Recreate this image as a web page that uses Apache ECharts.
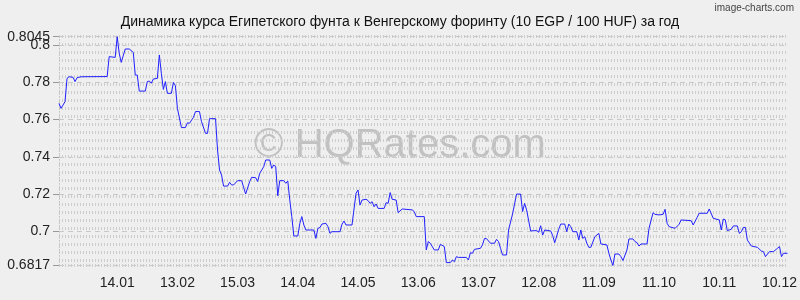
<!DOCTYPE html>
<html>
<head>
<meta charset="utf-8">
<script src="https://cdn.jsdelivr.net/npm/echarts@6/dist/echarts.min.js"></script>
<style>html,body{margin:0;padding:0;background:#efefef;}#c{width:800px;height:300px;}</style>
</head>
<body>
<div id="c"></div>
<script>
const titleText = 'Динамика курса Египетского фунта к Венгерскому форинту (10 EGP / 100 HUF) за год';
const watermarkText = '© HQRates.com';
const creditText = 'image-charts.com';

// day index counted from 16.12
const tickDays = [29, 59, 89, 119, 149, 179, 209, 239, 269, 299, 329, 359];
const tickLabels = ['14.01', '13.02', '15.03', '14.04', '14.05', '13.06', '13.07', '12.08', '11.09', '11.10', '10.11', '10.12'];
const yTicks = [0.6817, 0.7, 0.72, 0.74, 0.76, 0.78, 0.8];
const yMaxTick = [0.8045];
const yMin = 0.6817, yMax = 0.8045, dayMax = 363;

const days = [0,1,3,4,5,7,8,9,11,24,25,28,29,30,31,33,35,37,38,39,40,43,44,45,46,47,49,50,51,52,53,54,56,57,58,59,61,63,64,65,67,68,70,71,73,74,75,78,79,80,81,82,84,85,86,87,89,
91,93,95,96,98,99,100,102,103,105,106,107,108,109,110,112,113,114,115,116,117,119,120,121,122,123,127,128,129,130,131,133,134,135,136,140,141,142,143,146,148,149,150,151,153,154,155,156,157,158,159,162,163,164,165,166,168,169,171,176,177,178,182,
183,184,185,187,189,190,192,193,195,196,197,198,199,203,204,205,206,207,210,211,212,213,215,217,218,219,220,221,223,224,226,227,228,230,231,232,233,235,238,239,240,241,242,245,246,247,249,250,252,253,254,255,256,258,259,260,261,262,263,264,265,267,269,270,
273,274,275,276,277,279,280,281,283,284,286,287,288,289,290,293,294,296,297,299,301,302,303,304,307,309,310,315,316,318,319,323,324,326,329,330,331,332,333,335,336,338,339,340,341,342,343,345,348,350,351,352,354,356,358,359,360,361,363];

const rates = [0.7687,0.7660,0.7696,0.7821,0.7830,0.7827,0.7804,0.7825,0.7830,0.7831,0.7938,0.7934,0.8045,0.7956,0.7907,0.7979,0.7979,0.7961,0.7839,0.7839,0.7753,0.7753,0.7804,0.7807,0.7795,0.7818,0.7821,0.7947,0.7848,0.7762,0.7804,0.7741,0.7741,0.7800,0.7782,0.7660,0.7557,0.7557,0.7583,0.7580,0.7612,0.7643,0.7643,0.7589,0.7526,0.7526,0.7605,0.7605,0.7437,0.7329,0.7302,0.7243,0.7243,0.7263,0.7249,0.7249,0.7272,
0.7272,0.7200,0.7267,0.7290,0.7288,0.7267,0.7311,0.7347,0.7383,0.7383,0.7338,0.7356,0.7347,0.7191,0.7272,0.7272,0.7258,0.7270,0.7168,0.7079,0.6975,0.6975,0.7043,0.7079,0.7034,0.7007,0.7007,0.6962,0.7016,0.7020,0.7039,0.7043,0.7025,0.6989,0.6998,0.6998,0.7038,0.7055,0.7034,0.7034,0.7204,0.7222,0.7141,0.7168,0.7172,0.7165,0.7150,0.7159,0.7132,0.7147,0.7123,0.7123,0.7154,0.7150,0.7208,0.7172,0.7168,0.7100,0.7120,0.7115,0.7106,0.7079,0.7079,
0.6900,0.6945,0.6936,0.6900,0.6900,0.6930,0.6918,0.6832,0.6832,0.6846,0.6837,0.6864,0.6860,0.6860,0.6846,0.6885,0.6882,0.6903,0.6909,0.6927,0.6961,0.6961,0.6936,0.6936,0.6957,0.6945,0.6909,0.6873,0.6873,0.7007,0.7093,0.7147,0.7200,0.7200,0.7106,0.7150,0.7115,0.7002,0.7004,0.6995,0.7030,0.6980,0.7007,0.7002,0.6977,0.6939,0.7011,0.7039,0.7039,0.6998,0.7039,0.7025,0.6998,0.6998,0.6953,0.7007,0.6962,0.6971,0.6936,0.6914,0.6914,0.6971,0.6989,0.6932,
0.6927,0.6882,0.6846,0.6817,0.6878,0.6878,0.6864,0.6843,0.6900,0.6959,0.6959,0.6945,0.6939,0.6921,0.6932,0.6932,0.7016,0.7100,0.7091,0.7088,0.7091,0.7118,0.7043,0.7025,0.7016,0.7038,0.7061,0.7057,0.7034,0.7075,0.7097,0.7097,0.7120,0.7070,0.7061,0.7007,0.7066,0.7061,0.7004,0.7011,0.7029,0.7029,0.6989,0.6998,0.7021,0.7021,0.6953,0.6921,0.6914,0.6894,0.6891,0.6864,0.6891,0.6891,0.6909,0.6918,0.6864,0.6882,0.6882];

const FONT = "'Liberation Sans', Arial, sans-serif";
const labelStyle = {margin: 9, fontFamily: FONT, fontSize: 14, color: '#222', hideOverlap: false, showMinLabel: true, showMaxLabel: true};
const chart = echarts.init(document.getElementById('c'), null, {renderer: 'canvas'});
chart.setOption({
  backgroundColor: '#efefef',
  animation: false,
  title: {
    text: titleText, left: 'center', top: 10,
    textStyle: {fontFamily: FONT, fontSize: 14, fontWeight: 'normal', color: '#111'}
  },
  graphic: [
    {type: 'text', right: 6, top: 3, z: 10,
     style: {text: creditText, fontFamily: FONT, fontSize: 10, fill: '#444'}},
    {type: 'text', left: 'center', top: 126, z: 0,
     style: {text: watermarkText, fontFamily: FONT, fontSize: 40, fill: 'rgba(110,110,110,0.36)'}}
  ],
  grid: {left: 59, right: 3, top: 36.7, bottom: 34.6},
  xAxis: {
    type: 'value', min: 0, max: dayMax,
    axisLine: {show: false}, axisTick: {show: false}, splitLine: {show: false},
    axisLabel: {
      customValues: tickDays, margin: 11,
      fontFamily: FONT, fontSize: 14, color: '#222',
      formatter: v => { const i = tickDays.indexOf(Math.round(v)); return i >= 0 ? tickLabels[i] : ''; }
    }
  },
  yAxis: [{
    type: 'value', position: 'left', min: yMin, max: yMax,
    axisLine: {show: true, lineStyle: {color: '#c4c4c4', type: [1, 2]}},
    axisTick: {show: true, customValues: yTicks, length: 6, lineStyle: {color: '#999'}},
    axisLabel: Object.assign({customValues: yTicks}, labelStyle),
    splitLine: {show: true, lineStyle: {color: '#c8c8c8', type: [5, 4], width: 1}}
  }, {
    type: 'value', position: 'right', inverse: true, min: 0, max: 28.6, interval: 1,
    axisLine: {show: false}, axisTick: {show: false}, axisLabel: {show: false},
    splitLine: {show: true, lineStyle: {color: '#cdcdcd', width: 3, type: [1, 2]}}
  }, {
    type: 'value', position: 'left', offset: 0, min: yMin, max: yMax,
    axisLine: {show: false},
    axisTick: {show: true, customValues: yMaxTick, length: 6, lineStyle: {color: '#999'}},
    axisLabel: Object.assign({customValues: yMaxTick}, labelStyle),
    splitLine: {show: true, lineStyle: {color: '#c8c8c8', type: [5, 4], width: 1}}
  }],
  series: [{
    type: 'line', yAxisIndex: 0, showSymbol: false, z: 5,
    data: days.map((d, i) => [d, rates[i]]),
    lineStyle: {color: '#2020ff', width: 1}
  }]
});
</script>
</body>
</html>
